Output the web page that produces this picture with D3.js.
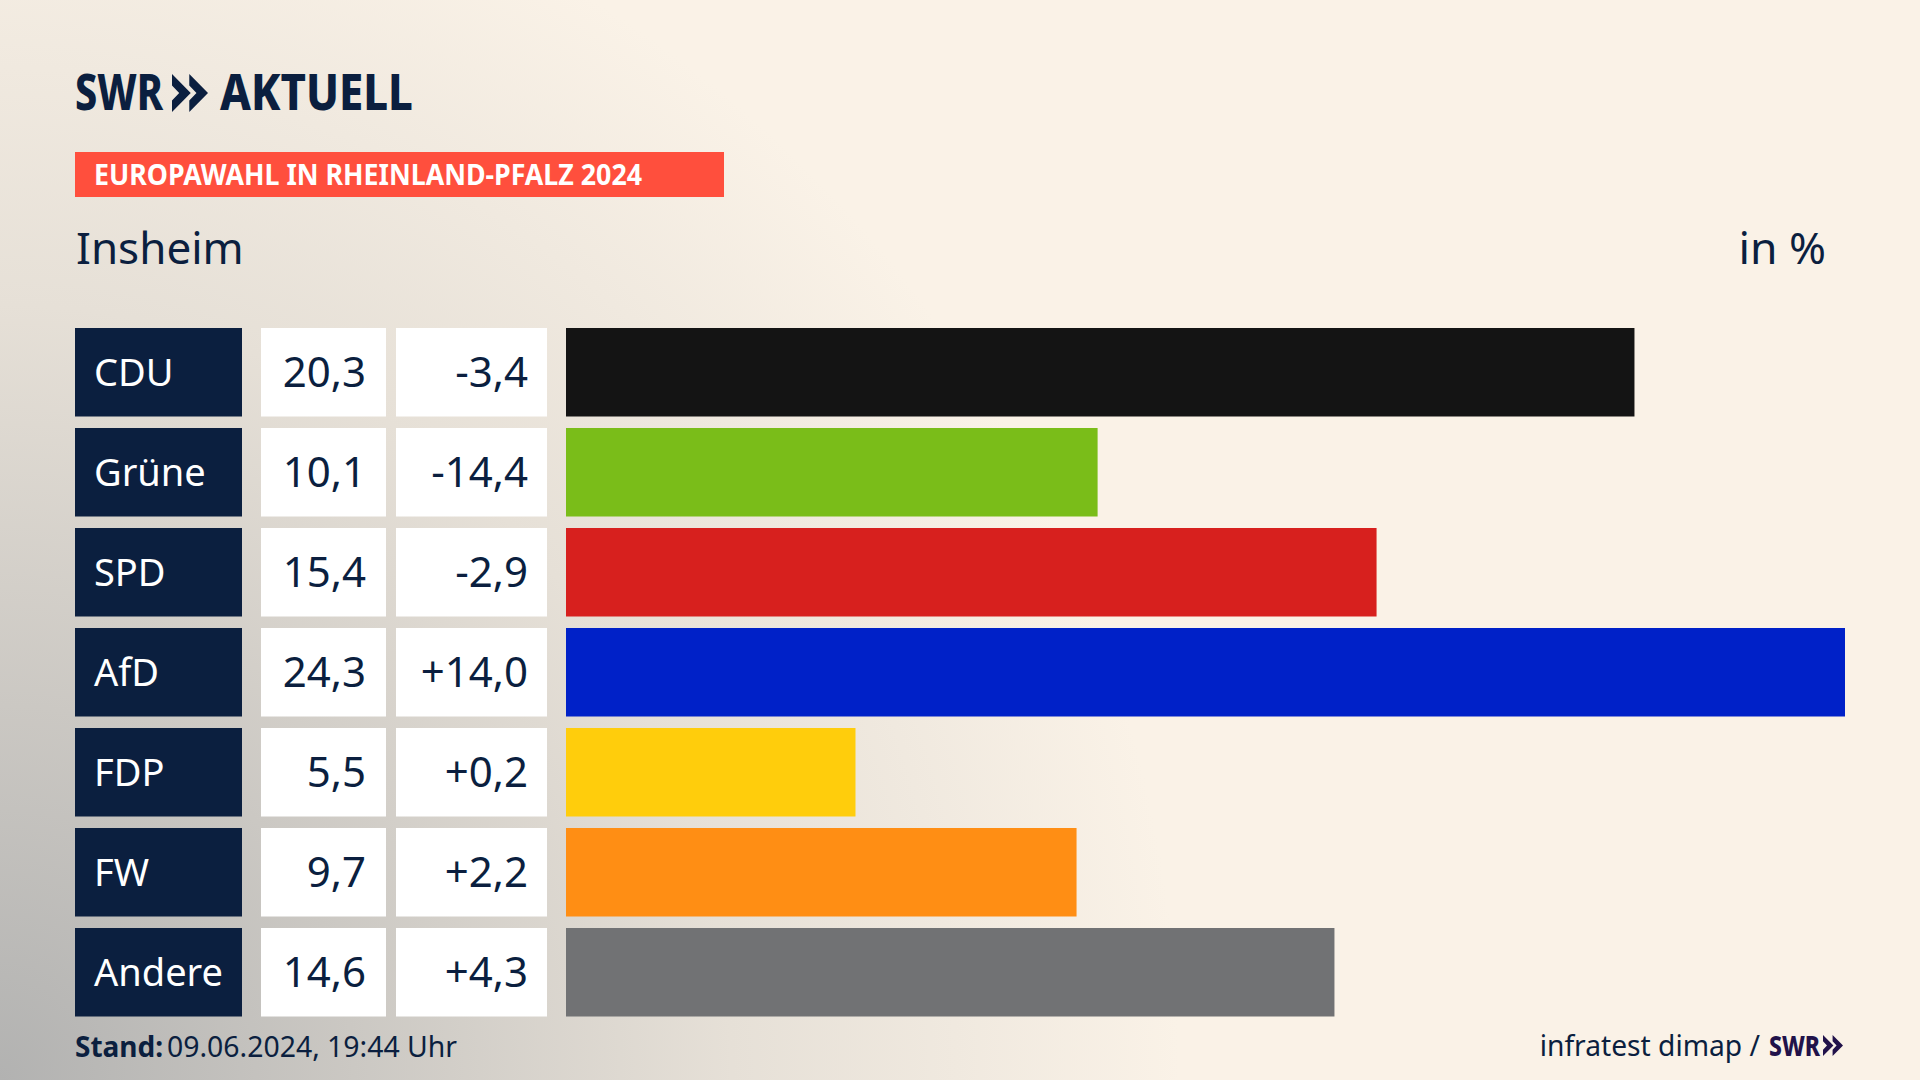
<!DOCTYPE html>
<html lang="de">
<head>
    <meta charset="UTF-8">
    <title>Europawahl in Rheinland-Pfalz 2024 - Insheim</title>
    <script src="https://cdn.jsdelivr.net/npm/d3@7"></script>
    <style>
        html, body { margin: 0; padding: 0; background: #faf2e7; }
        svg { display: block; }
        text { font-family: "Noto Sans", sans-serif; fill: #0b1f3f; }
    </style>
</head>
<body>
    <div id="chart"></div>

    <script>
        // data
        const parties = ["CDU", "Grüne", "SPD", "AfD", "FDP", "FW", "Andere"];
        const shares = [20.3, 10.1, 15.4, 24.3, 5.5, 9.7, 14.6];
        const changes = [-3.4, -14.4, -2.9, 14.0, 0.2, 2.2, 4.3];
        const barColors = ["#141414", "#7abd19", "#d7201e", "#0021c8", "#ffcd0c", "#ff8e14", "#717274"];

        const width = 1920, height = 1080;
        const navy = "#0b1f3f";

        const svg = d3.select("#chart").append("svg")
            .attr("width", width)
            .attr("height", height);

        // background
        const defs = svg.append("defs");
        const shade = defs.append("radialGradient")
            .attr("id", "shade")
            .attr("gradientUnits", "userSpaceOnUse")
            .attr("cx", 0).attr("cy", 0).attr("r", 1)
            .attr("gradientTransform", "translate(0,1080) scale(1180,1250)");
        shade.append("stop").attr("offset", 0).attr("stop-color", "#b2b2b1");
        shade.append("stop").attr("offset", 0.3).attr("stop-color", "#cbc8c3");
        shade.append("stop").attr("offset", 0.62).attr("stop-color", "#e6e0d7");
        shade.append("stop").attr("offset", 1).attr("stop-color", "#faf2e7");

        svg.append("rect").attr("width", width).attr("height", height).attr("fill", "url(#shade)");

        // scales
        const y = d3.scaleBand().domain(parties).range([328, 1016.5]).paddingInner(0.115);
        const x = d3.scaleLinear().domain([0, 24.3]).range([566, 1845]);

        const fmt = v => v.toFixed(1).replace(".", ",");
        const fmtChange = v => (v > 0 ? "+" : "-") + fmt(Math.abs(v));

        // two chevrons of the SWR mark, drawn at x0,y0 in a box w by h
        function chevrons(x0, y0, w, h, fill) {
            const arm = h * 0.3, notch = w * 0.2, gap = w * 0.48;
            const path = d3.path();
            [0, gap].forEach(dx => {
                const left = x0 + dx;
                path.moveTo(left, y0);
                path.lineTo(left + w - gap, y0 + h / 2);
                path.lineTo(left, y0 + h);
                path.lineTo(left, y0 + h - arm);
                path.lineTo(left + notch, y0 + h / 2);
                path.lineTo(left, y0 + arm);
                path.closePath();
            });
            svg.append("path").attr("fill", fill).attr("d", path.toString());
        }

        // header
        svg.append("text").attr("x", 75).attr("y", 110)
            .attr("font-size", 50).attr("font-weight", 800)
            .attr("textLength", 88).attr("lengthAdjust", "spacingAndGlyphs").text("SWR");
        chevrons(172, 74, 36, 38, navy);
        svg.append("text").attr("x", 220).attr("y", 110)
            .attr("font-size", 50).attr("font-weight", 800)
            .attr("textLength", 193).attr("lengthAdjust", "spacingAndGlyphs").text("AKTUELL");

        svg.append("rect").attr("x", 75).attr("y", 152).attr("width", 649).attr("height", 45).attr("fill", "#ff4f3d");
        svg.append("text").attr("x", 94).attr("y", 185)
            .attr("font-size", 29).attr("font-weight", 700).style("fill", "#fff")
            .attr("textLength", 548).attr("lengthAdjust", "spacingAndGlyphs")
            .text("EUROPAWAHL IN RHEINLAND-PFALZ 2024");

        svg.append("text").attr("x", 76).attr("y", 264).attr("font-size", 44).text("Insheim");
        svg.append("text").attr("x", 1826).attr("y", 264).attr("font-size", 44.5)
            .attr("text-anchor", "end").text("in %");

        // rows
        const rows = svg.append("g").selectAll("g")
            .data(parties)
            .join("g")
            .attr("transform", d => `translate(0,${y(d)})`);

        rows.append("rect").attr("x", 75).attr("width", 167).attr("height", y.bandwidth()).attr("fill", navy);
        rows.append("rect").attr("x", 261).attr("width", 125).attr("height", y.bandwidth()).attr("fill", "#fff");
        rows.append("rect").attr("x", 396).attr("width", 151).attr("height", y.bandwidth()).attr("fill", "#fff");
        rows.append("rect")
            .attr("x", x(0))
            .attr("width", (d, i) => x(shares[i]) - x(0))
            .attr("height", y.bandwidth())
            .attr("fill", (d, i) => barColors[i]);

        rows.append("text").attr("x", 94).attr("y", 58).attr("font-size", 38)
            .style("fill", "#fff").text(d => d);
        rows.append("text").attr("x", 366).attr("y", 59).attr("font-size", 42)
            .attr("text-anchor", "end").text((d, i) => fmt(shares[i]));
        rows.append("text").attr("x", 528).attr("y", 59).attr("font-size", 42)
            .attr("text-anchor", "end").text((d, i) => fmtChange(changes[i]));

        // footer
        svg.append("text").attr("x", 75).attr("y", 1057).attr("font-size", 28).attr("font-weight", 700).text("Stand:");
        svg.append("text").attr("x", 167).attr("y", 1057).attr("font-size", 28.4).text("09.06.2024, 19:44 Uhr");
        svg.append("text").attr("x", 1760).attr("y", 1056).attr("font-size", 28.2)
            .attr("text-anchor", "end").text("infratest dimap /");
        svg.append("text").attr("x", 1769).attr("y", 1056).attr("font-size", 28).attr("font-weight", 800)
            .attr("textLength", 51).attr("lengthAdjust", "spacingAndGlyphs")
            .style("fill", "#21124a").text("SWR");
        chevrons(1823, 1035, 20, 21, "#21124a");
    </script>
</body>
</html>
